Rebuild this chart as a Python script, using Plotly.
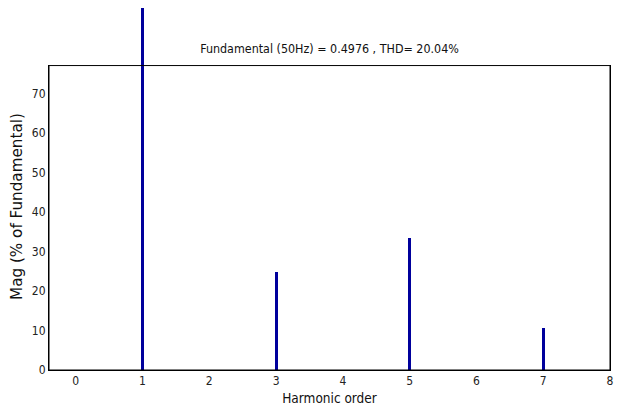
import plotly.graph_objects as go

harmonic_order = [0, 1, 2, 3, 4, 5, 6, 7, 8]
magnitude_pct = [0.0, 100.0, 0.0, 24.7, 0.0, 33.5, 0.0, 10.6, 0.0]
x_ticks = [0, 1, 2, 3, 4, 5, 6, 7, 8]
y_ticks = [0, 10, 20, 30, 40, 50, 60, 70]
title_text = "Fundamental (50Hz) = 0.4976 , THD= 20.04%"
x_title = "Harmonic order"
y_title = "Mag (% of Fundamental)"

COND = "DejaVu Sans Condensed, Liberation Sans Narrow, sans-serif"
REG = "DejaVu Sans, sans-serif"

W, H = 614, 398  # page body margin (8px) + figure fits the 622x414 window
x_range = [-0.4, 8]
y_max = 77.1
y_dom_top = 0.841  # visible axes box occupies lower part; bars may rise above it

fig = go.Figure()
# invisible trace that anchors the visible framed axes
fig.add_trace(go.Scatter(
    x=harmonic_order, y=magnitude_pct, mode="markers",
    marker=dict(opacity=0), hoverinfo="skip", showlegend=False,
    xaxis="x", yaxis="y",
))
fig.add_trace(go.Bar(
    x=harmonic_order,
    y=magnitude_pct,
    width=0.045,
    marker=dict(color="#00009C", line=dict(width=0)),
    xaxis="x", yaxis="y2",
    showlegend=False,
))

axis_common = dict(
    showline=True, linecolor="#000000", linewidth=1, mirror="ticks",
    ticks="inside", ticklen=5, tickcolor="#000000", tickwidth=1,
    showgrid=False, zeroline=False, automargin=False,
    tickfont=dict(family=COND, size=12, color="#222222"),
)

fig.update_layout(
    width=W, height=H,
    margin=dict(l=41, r=12, t=0, b=36),
    paper_bgcolor="white", plot_bgcolor="white",
    bargap=0,
    title=dict(text=title_text, x=0.5, xref="paper", y=1 - 41/H, yref="container",
               xanchor="center", yanchor="middle",
               font=dict(family=COND, size=12.4, color="#111111")),
    xaxis=dict(range=x_range, tickvals=x_ticks, anchor="y", ticklabeloverflow="allow",
               title=dict(text=x_title, standoff=6,
                          font=dict(family=COND, size=13.5, color="#111111")),
               **axis_common),
    yaxis=dict(range=[0, y_max], tickvals=y_ticks, domain=[0, y_dom_top], anchor="x",
               **axis_common),
    yaxis2=dict(range=[0, y_max / y_dom_top], domain=[0, 1], anchor="x", visible=False,
                showgrid=False, zeroline=False),
    shapes=[dict(type="rect", xref="x domain", yref="y domain", x0=0, x1=1, y0=0, y1=1,
                 line=dict(color="#000000", width=1), fillcolor="rgba(0,0,0,0)",
                 layer="above")],
    annotations=[dict(text=y_title, textangle=-90, xref="paper", yref="paper",
                      x=-0.056, y=0.452, xanchor="center", yanchor="middle",
                      showarrow=False,
                      font=dict(family=REG, size=15.2, color="#111111"))],
)

fig.write_html("out.html")
